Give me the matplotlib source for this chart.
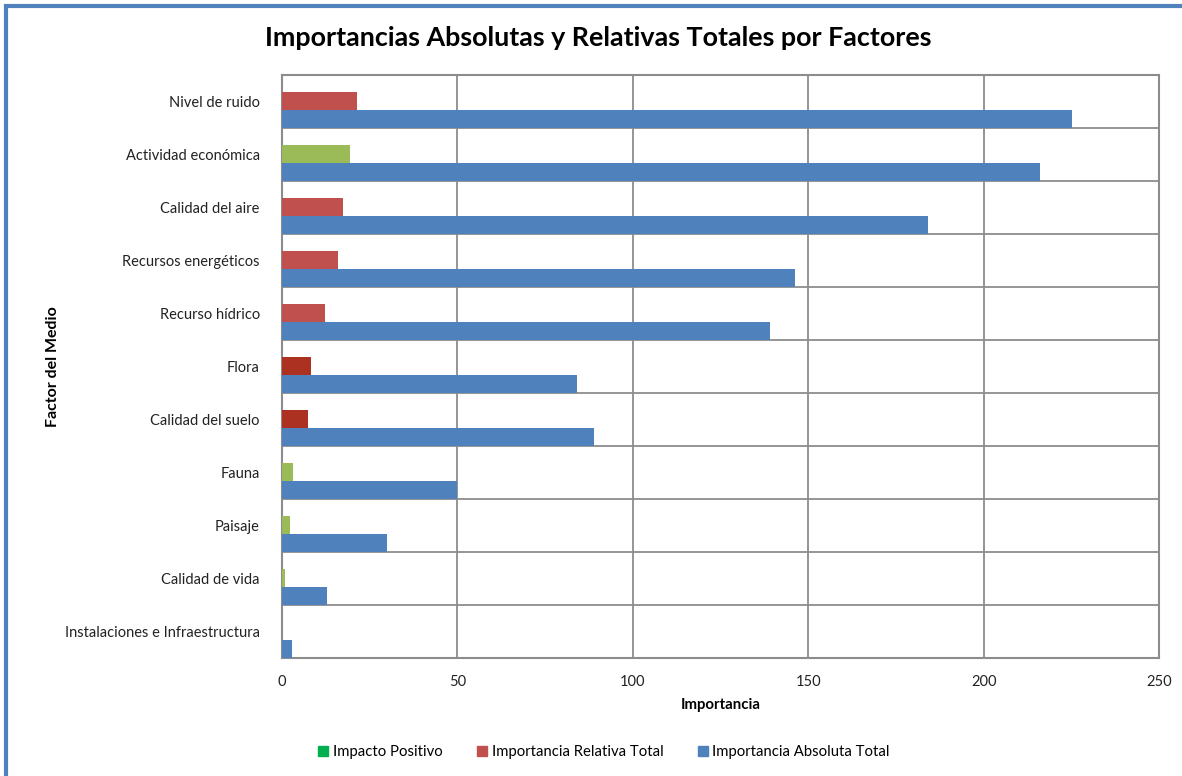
import numpy as np
import matplotlib
matplotlib.use("Agg")
import matplotlib.pyplot as plt
from matplotlib.patches import Patch, Rectangle

plt.rcParams['font.family'] = ['Lato', 'DejaVu Sans']

factores = ['Nivel de ruido', 'Actividad económica', 'Calidad del aire',
            'Recursos energéticos', 'Recurso hídrico', 'Flora',
            'Calidad del suelo', 'Fauna', 'Paisaje', 'Calidad de vida',
            'Instalaciones e Infraestructura']
relativa = [21.4, 19.4, 17.4, 16.0, 12.3, 8.3, 7.4, 3.0, 2.3, 0.9, 0.0]
absoluta = [225.2, 216.1, 184.2, 146.2, 139.1, 84.1, 88.9, 49.9, 29.9, 12.8, 2.8]
# tipo de impacto de cada factor: positivo, relativo o relativo critico
tipo = ['rel', 'pos', 'rel', 'rel', 'rel', 'crit', 'crit', 'pos', 'pos', 'pos', 'pos']

colores_tipo = {'rel': '#C0504D', 'pos': '#9BBB59', 'crit': '#AD3120'}
azul = '#4F81BD'
gris = '#8C8C8C'

fig = plt.figure(figsize=(11.82, 7.76), dpi=100)
ax = fig.add_axes([282 / 1182, 1 - 658 / 776, 877 / 1182, 583 / 776])

y = np.arange(len(factores))
h = 0.34
ax.barh(y - 0.01, relativa, height=h, color=[colores_tipo[t] for t in tipo], zorder=3)
ax.barh(y + 0.33, absoluta, height=h, color=azul, zorder=3)

ax.set_xlim(0, 250)
ax.set_ylim(len(factores) - 0.5, -0.5)
ax.set_xticks(np.arange(0, 251, 50))
ax.set_yticks(y)
ax.set_yticklabels(factores)
ax.set_yticks(np.arange(len(factores) + 1) - 0.5, minor=True)
ax.tick_params(axis='y', which='both', length=0, pad=16, labelsize=10.5, colors='#222222')
ax.tick_params(axis='x', length=0, pad=12, labelsize=10.5, colors='#222222')
ax.grid(axis='x', which='major', color=gris, linewidth=1.3, zorder=0)
ax.grid(axis='y', which='minor', color=gris, linewidth=1.3, zorder=0)
for s in ax.spines.values():
    s.set_color(gris)
    s.set_linewidth(1.5)

ax.set_xlabel('Importancia', fontsize=10.8, fontweight='bold', labelpad=7)
ax.set_ylabel('Factor del Medio', fontsize=11.5, fontweight='bold')
ax.yaxis.set_label_coords(-0.253, 0.5)
fig.text(0.506, 0.951, 'Importancias Absolutas y Relativas Totales por Factores',
         ha='center', va='center', fontsize=19.4, fontweight='bold')

handles = [Patch(color='#00B050', label='Impacto Positivo'),
           Patch(color='#C0504D', label='Importancia Relativa Total'),
           Patch(color=azul, label='Importancia Absoluta Total')]
fig.legend(handles=handles, loc='center', bbox_to_anchor=(0.511, 0.031), ncol=3,
           frameon=False, fontsize=10.7, handlelength=0.7, handleheight=0.7,
           handletextpad=0.3, columnspacing=2.3)

# marco exterior del grafico
fig.patches.append(Rectangle((6 / 1182, -0.1), 1.2, 1 - 6 / 776 + 0.1,
                             transform=fig.transFigure, fill=False,
                             edgecolor='#4F81BD', linewidth=3))

fig.savefig('out.png', dpi=100)
